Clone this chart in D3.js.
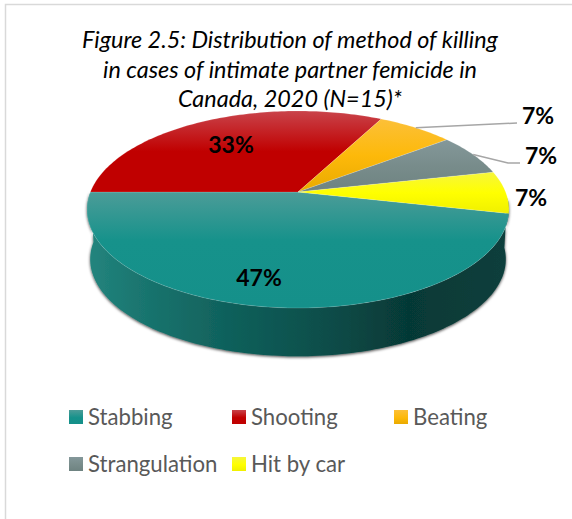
<!DOCTYPE html>
<html>
<head>
<meta charset="utf-8">
<script src="https://cdn.jsdelivr.net/npm/d3@7"></script>
<style>
    html,body{margin:0;padding:0;background:#fff;}
    svg{display:block;}
    text{font-family:Lato,"Open Sans",sans-serif;}
</style>
</head>
<body>
<div id="chart"></div>
<script>
    var categories=["Stabbing","Shooting","Beating","Strangulation","Hit by car"];
    // percent as labelled on the slices
    var shares=[47,33,7,7,7];
    var titleLines=["Figure 2.5: Distribution of method of killing","in cases of intimate partner femicide in","Canada, 2020 (N=15)*"];

    var dx=572,dy=519;
    var colors={
        Stabbing:["#4c9c98","#16928b","#15908a"],
        Shooting:["#c9434a","#c00000","#c00000"],
        Beating:["#fcc038","#fdb90a","#e9aa00"],
        Strangulation:["#84989a","#788c8b","#6e8381"],
        "Hit by car":["#f6f63c","#ffff00","#f0f000"]
    };
    var stops={Stabbing:[0,0.42,1],Shooting:[0,0.5,1],Beating:[0,0.5,1],Strangulation:[0,0.5,1],"Hit by car":[0,0.5,1]};

    var svg=d3.select("#chart").append("svg").attr("width",dx).attr("height",dy);
    var defs=svg.append("defs");

    // the frame is only drawn on the left and top here, see reference
    svg.append("path")
        .attr("d","M5.5,"+dy+"V4.5H"+dx)
        .attr("fill","none")
        .attr("stroke","#d9d9d9")
        .attr("stroke-width",1.5);

    var title=svg.append("g");
    titleLines.forEach(function(t,i){
        title.append("text")
            .attr("x",290)
            .attr("y",48+i*29.7)
            .attr("text-anchor","middle")
            .attr("font-size",23.4)
            .attr("font-style","italic")
            .attr("fill","#000")
            .text(t);
    });

    //tilted disc: perspective from the unit circle to the screen
    var pie={x:298,y:192,a:207.6,b:95.4,p:0.1776,depth:50};
    function project(angle,drop){
        var u=Math.sin(angle),v=Math.cos(angle),w=1+pie.p*v;
        var s=drop?0.985:1;
        return [pie.x+s*pie.a*u/w,pie.y+s*pie.b*(-v)/w+(drop?pie.depth:0)];
    }
    function samples(a0,a1){
        var n=Math.max(2,Math.ceil(Math.abs(a1-a0)/0.02));
        return d3.range(n+1).map(function(i){return a0+(a1-a0)*i/n;});
    }
    var line=d3.line();

    // the 12 o'clock angle at which Stabbing begins, clockwise
    var slices=d3.pie().sort(null).startAngle(102.5*Math.PI/180).endAngle((102.5+360)*Math.PI/180)(shares);

    // side wall, seen from the far right round to the far left
    var wallStart=Math.PI/2+0.06,wallEnd=Math.PI*1.5;
    var wallGrad=defs.append("linearGradient").attr("id","wallGrad");
    [[0,"#23857e"],[0.12,"#1a7670"],[0.35,"#0f5f5a"],[0.55,"#0a4f4b"],[0.76,"#063936"],[1,"#0b3f3c"]].forEach(function(s){
        wallGrad.append("stop").attr("offset",s[0]).attr("stop-color",s[1]);
    });
    var shadow=defs.append("filter").attr("id","wallShadow")
        .attr("x","-5%").attr("y","-5%").attr("width","110%").attr("height","115%");
    shadow.append("feDropShadow")
        .attr("dx",0).attr("dy",1)
        .attr("stdDeviation",1.6)
        .attr("flood-color","#000")
        .attr("flood-opacity",0.75);

    var wallTop=samples(wallEnd,wallStart).map(function(a){return project(a,false);});
    var wallBottom=samples(wallStart,wallEnd).map(function(a){return project(a,true);});
    svg.append("path")
        .attr("d",line(wallTop.concat(wallBottom))+"Z")
        .attr("fill","url(#wallGrad)")
        .attr("filter","url(#wallShadow)");

    // slices on top of the wall
    slices.forEach(function(d,i){
        var name=categories[i];
        var grad=defs.append("linearGradient")
            .attr("id","slice"+i)
            .attr("x1",0).attr("y1",0).attr("x2",0).attr("y2",1);
        colors[name].forEach(function(c,j){
            grad.append("stop").attr("offset",stops[name][j]).attr("stop-color",c);
        });
        var pts=[[pie.x,pie.y]].concat(samples(d.startAngle,d.endAngle).map(function(a){return project(a,false);}));
        svg.append("path")
            .attr("d",line(pts)+"Z")
            .attr("fill","url(#slice"+i+")")
            .attr("stroke","#fff")
            .attr("stroke-opacity",0.3)
            .attr("stroke-width",0.5);
    });

    // leader lines, from the middle of the slice rim to its label
    var leaders=[
        {slice:2,via:[[517,123]]},
        {slice:3,via:[[508,163],[520,163]]}
    ];
    leaders.forEach(function(l){
        var d=slices[l.slice];
        var from=project((d.startAngle+d.endAngle)/2,false);
        svg.append("path")
            .attr("d",line([from].concat(l.via)))
            .attr("fill","none")
            .attr("stroke","#a6a6a6")
            .attr("stroke-width",1.5);
    });

    var labelPos=[[259,286],[231,153],[538,124],[541,164],[531,206]];
    slices.forEach(function(d,i){
        svg.append("text")
            .attr("x",labelPos[i][0])
            .attr("y",labelPos[i][1])
            .attr("text-anchor","middle")
            .attr("font-size",23)
            .attr("font-weight",700)
            .attr("fill","#000")
            .text(d.value+"%");
    });

    // legend
    var legendPos=[[69,410],[232,410],[394,410],[69,457],[232,457]];
    categories.forEach(function(c,i){
        var g=svg.append("g").attr("transform","translate("+legendPos[i][0]+","+legendPos[i][1]+")");
        var grad=defs.append("linearGradient")
            .attr("id","key"+i)
            .attr("x1",0).attr("y1",0).attr("x2",0).attr("y2",1);
        grad.append("stop").attr("offset",0).attr("stop-color",colors[c][0]);
        grad.append("stop").attr("offset",0.55).attr("stop-color",colors[c][1]);
        grad.append("stop").attr("offset",1).attr("stop-color",colors[c][2]);
        g.append("rect")
            .attr("width",14)
            .attr("height",14)
            .attr("fill","url(#key"+i+")");
        g.append("text")
            .attr("x",19)
            .attr("y",14.5)
            .attr("font-size",22.2)
            .attr("fill","#595959")
            .text(c);
    });
</script>
</body>
</html>
